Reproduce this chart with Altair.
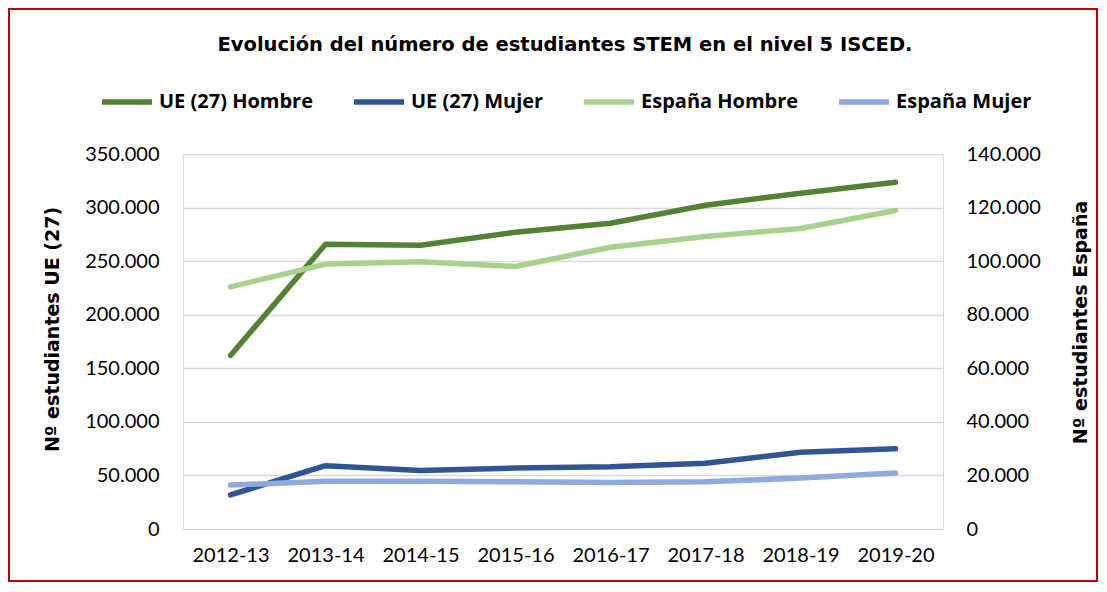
import altair as alt
import pandas as pd

years = ["2012-13", "2013-14", "2014-15", "2015-16", "2016-17", "2017-18", "2018-19", "2019-20"]
ue_hombre = [162000, 265800, 264900, 277000, 285400, 302200, 313400, 323600]
ue_mujer = [31900, 59100, 54700, 56900, 58100, 61300, 71600, 75000]
es_hombre = [90400, 98900, 99800, 98000, 105200, 109200, 112200, 118900]
es_mujer = [16400, 17800, 17800, 17600, 17400, 17600, 19000, 20900]
series = ["UE (27) Hombre", "UE (27) Mujer", "España Hombre", "España Mujer"]
colors = ["#548235", "#2F5597", "#A9D18E", "#8FAADC"]
left_ticks = [0, 50000, 100000, 150000, 200000, 250000, 300000, 350000]
right_ticks = [0, 20000, 40000, 60000, 80000, 100000, 120000, 140000]

ue = pd.DataFrame({
    "year": years * 2,
    "value": ue_hombre + ue_mujer,
    "series": [series[0]] * len(years) + [series[1]] * len(years),
})
es = pd.DataFrame({
    "year": years * 2,
    "value": es_hombre + es_mujer,
    "series": [series[2]] * len(years) + [series[3]] * len(years),
})

FONT = "Lato"
BFONT = "Open Sans"
TFONT = "DejaVu Sans"
lbl = "replace(format(datum.value, ','), ',', '.')"

color = alt.Color(
    "series:N",
    scale=alt.Scale(domain=series, range=colors),
    legend=alt.Legend(
        title=None, orient="none", direction="horizontal", columns=4,
        legendX=-84, legendY=-80,
        symbolType="stroke", symbolSize=2500, symbolStrokeWidth=5.5,
        labelFont=BFONT, labelFontSize=20, labelFontWeight="bold", labelColor="#000000",
        labelOffset=4, columnPadding=29, labelLimit=400,
    ),
)

x = alt.X(
    "year:N", sort=years, title=None,
    axis=alt.Axis(labelAngle=0, domain=False, ticks=False, grid=False,
                  labelFont=FONT, labelFontSize=20, labelColor="#000000", labelPadding=16),
)

left = alt.Chart(ue).mark_line(strokeWidth=5.5, strokeCap="round", strokeJoin="round").encode(
    x=x,
    y=alt.Y(
        "value:Q",
        scale=alt.Scale(domain=[0, 350000], nice=False, zero=True),
        axis=alt.Axis(
            orient="left", values=left_ticks, labelExpr=lbl, domain=False, ticks=False,
            grid=True, gridColor="#d9d9d9", gridWidth=1.5,
            labelFont=FONT, labelFontSize=20, labelColor="#000000", labelPadding=24,
            title="Nº estudiantes UE (27)", titleFont=TFONT, titleFontSize=19,
            titleFontWeight="bold", titleColor="#000000", titleAngle=270,
            titleX=-131, titleY=175, titleBaseline="middle", titleAlign="center",
        ),
    ),
    color=color,
)

right = alt.Chart(es).mark_line(strokeWidth=5.5, strokeCap="round", strokeJoin="round").encode(
    x=x,
    y=alt.Y(
        "value:Q",
        scale=alt.Scale(domain=[0, 140000], nice=False, zero=True),
        axis=alt.Axis(
            orient="right", values=right_ticks, labelExpr=lbl, domain=False, ticks=False,
            grid=False,
            labelFont=FONT, labelFontSize=20, labelColor="#000000", labelPadding=23,
            title="Nº estudiantes España", titleFont=TFONT, titleFontSize=19,
            titleFontWeight="bold", titleColor="#000000", titleAngle=270,
            titleX=137, titleY=168, titleBaseline="middle", titleAlign="center",
        ),
    ),
    color=color,
)

border = alt.Chart(pd.DataFrame({"k": [0]})).mark_rect(
    fillOpacity=0, stroke="#C00000", strokeWidth=2
).encode(
    x=alt.value(-174), x2=alt.value(914), y=alt.value(-145), y2=alt.value(427)
)

chart = alt.layer(left, right, border).resolve_scale(y="independent").properties(
    width=760, height=375,
    autosize=alt.AutoSizeParams(type="none"),
    padding={"left": 175, "top": 146, "right": 156, "bottom": 55},
    title=alt.TitleParams(
        "Evolución del número de estudiantes STEM en el nivel 5 ISCED.",
        font=TFONT, fontSize=19.5, fontWeight="bold", color="#000000",
        anchor="middle", offset=10, dy=57, dx=2,
    ),
).configure_view(stroke=None).configure(background="white")

chart.save("out.html", embed_options={"renderer": "svg", "actions": False})
